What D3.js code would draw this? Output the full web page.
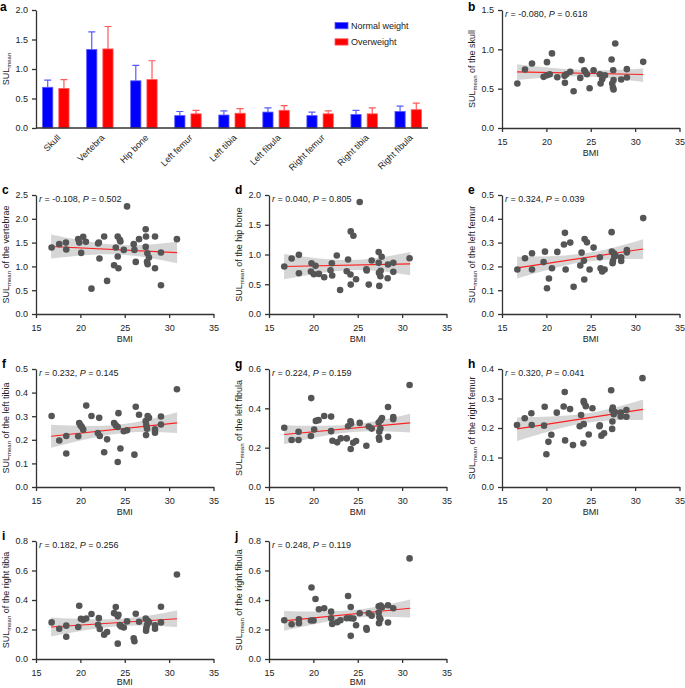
<!DOCTYPE html>
<html>
<head>
<meta charset="utf-8">
<script src="https://cdn.jsdelivr.net/npm/d3@7"></script>
<style>
body { margin: 0; background: #fff; }
svg { font-family: "Liberation Sans", Arial, sans-serif; }
.axis path, .axis line { stroke: #333; stroke-width: 1.3; }
.axis text { fill: #222; font-size: 9px; }
</style>
</head>
<body>
<svg id="fig" width="685" height="688"></svg>
<script>
// ---- panel a: mean SUL by bone ----
let bones = ["Skull", "Vertebra", "Hip bone", "Left femur", "Left tibia", "Left fibula", "Right femur", "Right tibia", "Right fibula"]
let normalMean = [0.69, 1.33, 0.80, 0.21, 0.22, 0.27, 0.21, 0.23, 0.28]
let normalSD   = [0.12, 0.30, 0.26, 0.07, 0.07, 0.07, 0.06, 0.07, 0.09]
let overMean   = [0.67, 1.34, 0.82, 0.24, 0.25, 0.30, 0.24, 0.24, 0.31]
let overSD     = [0.15, 0.38, 0.32, 0.06, 0.08, 0.08, 0.05, 0.10, 0.11]
let barTicks = [0, 0.5, 1.0, 1.5, 2.0]
let groups = ["Normal weight", "Overweight"]

// ---- scatter panels: [BMI, SULmean] ----
let skullPts = [[16.73,0.565],[17.59,0.744],[18.38,0.82],[19.69,0.65],[20.07,0.837],[20.07,0.67],[20.37,0.684],[20.63,0.948],[21.23,0.646],[22.05,0.663],[22.09,0.574],[22.24,0.684],[22.69,0.714],[23.07,0.467],[23.82,0.637],[23.97,0.863],[24.27,0.735],[24.38,0.714],[24.57,0.684],[24.87,0.506],[25.32,0.735],[26.03,0.684],[26.11,0.565],[26.29,0.62],[26.37,0.66],[26.6,0.67],[27.35,0.871],[27.42,0.565],[27.53,0.735],[27.57,0.61],[27.5,0.514],[27.57,0.49],[27.76,1.075],[28.43,0.616],[29.07,0.748],[29.07,0.642],[30.91,0.841]]
let vertebraPts = [[16.76,1.396],[17.62,1.467],[18.37,1.50],[18.41,1.354],[19.76,1.572],[19.87,1.50],[20.09,1.284],[20.32,1.621],[20.62,1.516],[21.25,0.533],[22.0,1.48],[22.08,1.50],[22.15,1.165],[22.68,1.628],[23.01,0.695],[23.8,1.025],[23.99,1.396],[24.21,1.628],[24.21,1.207],[24.29,0.961],[24.44,1.558],[24.51,1.523],[24.89,1.347],[25.26,2.26],[26.01,1.467],[26.09,1.347],[26.24,1.095],[26.61,1.572],[27.36,1.782],[27.4,1.628],[27.36,1.41],[27.55,1.277],[27.51,1.095],[27.58,1.046],[27.73,1.186],[28.41,1.628],[28.41,0.961],[29.08,1.291],[29.08,0.604],[30.88,1.572]]
let hipPts = [[16.72,0.798],[17.55,0.933],[18.37,0.994],[18.37,0.685],[19.79,0.854],[19.72,0.713],[20.06,0.669],[20.24,0.809],[20.62,0.674],[21.22,0.618],[21.93,0.736],[22.08,0.854],[22.12,0.646],[22.64,0.983],[23.01,0.404],[23.76,0.719],[23.91,0.916],[24.18,0.663],[24.21,0.494],[24.21,1.388],[24.51,1.315],[24.81,0.584],[25.22,1.882],[25.97,0.753],[26.01,0.73],[26.24,0.494],[26.57,0.899],[27.36,1.04],[27.36,0.86],[27.39,0.691],[27.43,0.472],[27.55,0.635],[27.58,0.725],[27.7,0.961],[28.37,0.601],[28.41,0.831],[29.01,0.86],[29.01,0.708],[30.84,0.938]]
let leftFemurPts = [[16.73,0.187],[17.59,0.234],[18.38,0.255],[18.38,0.187],[19.84,0.262],[19.69,0.218],[20.07,0.108],[20.29,0.149],[20.63,0.192],[21.23,0.261],[21.98,0.292],[22.09,0.341],[22.17,0.187],[22.69,0.30],[23.07,0.114],[23.82,0.204],[23.97,0.258],[24.23,0.224],[24.27,0.145],[24.31,0.315],[24.57,0.301],[24.87,0.187],[25.32,0.279],[26.03,0.238],[26.11,0.192],[26.29,0.179],[26.56,0.187],[27.35,0.344],[27.38,0.262],[27.46,0.213],[27.5,0.223],[27.61,0.255],[27.65,0.241],[27.8,0.245],[28.43,0.238],[28.43,0.223],[29.07,0.269],[29.07,0.259],[30.91,0.403]]
let leftTibiaPts = [[16.76,0.301],[17.62,0.197],[18.41,0.216],[18.41,0.142],[19.76,0.215],[19.87,0.271],[20.02,0.261],[20.17,0.254],[20.32,0.243],[20.66,0.345],[21.25,0.301],[21.97,0.229],[22.12,0.293],[22.19,0.216],[22.68,0.147],[23.01,0.202],[23.8,0.271],[23.99,0.261],[24.21,0.106],[24.21,0.254],[24.29,0.313],[24.51,0.163],[24.89,0.236],[25.26,0.24],[26.09,0.137],[26.24,0.340],[26.61,0.306],[27.36,0.279],[27.4,0.22],[27.43,0.261],[27.51,0.247],[27.58,0.301],[27.73,0.293],[28.41,0.244],[28.41,0.23],[29.08,0.299],[29.08,0.265],[30.88,0.414]]
let leftFibulaPts = [[16.72,0.301],[17.55,0.239],[18.33,0.281],[18.33,0.239],[19.72,0.259],[19.76,0.452],[20.09,0.292],[20.28,0.336],[20.58,0.34],[21.22,0.361],[22.0,0.358],[22.0,0.284],[22.15,0.235],[22.68,0.227],[23.09,0.247],[23.76,0.247],[23.91,0.309],[24.18,0.334],[24.25,0.323],[24.21,0.193],[24.48,0.225],[24.81,0.234],[25.22,0.326],[25.97,0.21],[26.24,0.308],[26.57,0.297],[27.36,0.328],[27.39,0.25],[27.43,0.24],[27.43,0.281],[27.55,0.297],[27.58,0.339],[27.73,0.351],[28.41,0.407],[28.41,0.255],[29.0,0.356],[29.0,0.345],[30.84,0.519]]
let rightFemurPts = [[16.69,0.21],[17.56,0.233],[18.31,0.25],[18.35,0.21],[19.74,0.208],[19.81,0.272],[20.0,0.111],[20.23,0.153],[20.56,0.177],[21.17,0.252],[21.95,0.273],[22.07,0.322],[22.11,0.158],[22.67,0.264],[23.0,0.142],[23.76,0.206],[23.91,0.244],[24.21,0.213],[24.17,0.148],[24.2,0.291],[24.25,0.286],[24.44,0.274],[24.77,0.178],[25.19,0.267],[25.98,0.206],[26.02,0.209],[26.2,0.174],[26.5,0.182],[27.3,0.328],[27.41,0.261],[27.41,0.197],[27.44,0.222],[27.48,0.269],[27.59,0.247],[27.71,0.254],[28.38,0.252],[28.38,0.239],[29.02,0.261],[29.02,0.238],[30.83,0.369]]
let rightTibiaPts = [[16.76,0.248],[17.62,0.205],[18.41,0.226],[18.41,0.151],[19.76,0.217],[19.87,0.361],[20.06,0.273],[20.32,0.266],[20.66,0.275],[21.25,0.305],[22.0,0.232],[22.08,0.277],[22.19,0.203],[22.68,0.165],[23.01,0.183],[23.8,0.311],[23.99,0.352],[24.21,0.104],[24.21,0.289],[24.29,0.30],[24.44,0.23],[24.6,0.221],[24.89,0.214],[25.26,0.255],[26.01,0.14],[26.09,0.12],[26.24,0.307],[26.61,0.253],[27.36,0.275],[27.4,0.192],[27.43,0.21],[27.51,0.23],[27.58,0.259],[27.73,0.25],[28.41,0.228],[28.41,0.205],[29.08,0.354],[29.08,0.248],[30.88,0.573]]
let rightFibulaPts = [[16.72,0.263],[17.55,0.236],[18.37,0.27],[18.37,0.243],[19.72,0.261],[19.79,0.485],[20.02,0.261],[20.24,0.407],[20.62,0.337],[21.22,0.344],[22.0,0.321],[22.0,0.276],[22.12,0.238],[22.68,0.249],[23.05,0.263],[23.76,0.276],[23.91,0.427],[24.18,0.276],[24.21,0.157],[24.21,0.353],[24.51,0.274],[24.81,0.229],[25.22,0.31],[25.97,0.209],[26.01,0.198],[26.24,0.31],[26.57,0.294],[27.36,0.357],[27.36,0.315],[27.4,0.243],[27.43,0.283],[27.55,0.27],[27.58,0.362],[27.73,0.351],[28.41,0.364],[28.41,0.247],[29.0,0.344],[30.84,0.682]]

let sites  = ["skull", "vertebrae", "hip bone", "left femur", "left tibia", "left fibula", "right femur", "right tibia", "right fibula"]
let letters = ["b", "c", "d", "e", "f", "g", "h", "i", "j"]
let rVals = ["-0.080", "-0.108", "0.040", "0.324", "0.232", "0.224", "0.320", "0.182", "0.248"]
let pVals = ["0.618", "0.502", "0.805", "0.039", "0.145", "0.159", "0.041", "0.256", "0.119"]
let yMaxes = [1.5, 2.5, 2.0, 0.5, 0.5, 0.6, 0.4, 0.8, 0.8]
let ySteps = [0.5, 0.5, 0.5, 0.1, 0.1, 0.2, 0.1, 0.2, 0.2]
let bmiTicks = [15, 20, 25, 30, 35]

// fitted line (at BMI 16.7 and 30.9) and 95% band (at BMI 16.7, 24.2, 30.9)
let fitX = [16.7, 30.9]
let bandX = [16.7, 24.2, 30.9]
let fitY = [[0.714,0.680],[1.418,1.291],[0.798,0.843],[0.194,0.273],[0.215,0.272],[0.267,0.326],[0.197,0.263],[0.217,0.273],[0.258,0.344]]
let bandLo = [[0.61,0.656,0.585],[1.165,1.25,1.067],[0.584,0.737,0.652],[0.149,0.218,0.231],[0.166,0.226,0.229],[0.217,0.278,0.277],[0.156,0.216,0.227],[0.153,0.222,0.217],[0.191,0.276,0.281]]
let bandHi = [[0.81,0.736,0.756],[1.67,1.45,1.516],[1.01,0.907,1.04],[0.241,0.254,0.314],[0.264,0.264,0.317],[0.314,0.318,0.373],[0.236,0.248,0.297],[0.282,0.272,0.329],[0.326,0.330,0.404]]

let allPts = [skullPts, vertebraPts, hipPts, leftFemurPts, leftTibiaPts, leftFibulaPts, rightFemurPts, rightTibiaPts, rightFibulaPts]

let svg = d3.select('#fig')
let fmt = d3.format('.1f')

// SUL_mean label with subscript
let sulLabel = (sel, rest) => {
    sel.append('tspan').text('SUL')
    sel.append('tspan').attr('dy', 2).style('font-size', '6px').text('mean')
    if (rest) sel.append('tspan').attr('dy', -2).text(' ' + rest)
}

// ================= panel a =================
let aLeft = 36, aRight = 428, aTop = 10, aBottom = 128
let x0 = d3.scaleBand().domain(bones).range([aLeft, aRight]).paddingInner(0.4).paddingOuter(0.15)
let x1 = d3.scaleBand().domain(groups).range([0, x0.bandwidth()]).paddingInner(0.37)
let yA = d3.scaleLinear().domain([0, 2]).range([aBottom, aTop])
let colors = { "Normal weight": "#0000ff", "Overweight": "#ff0000" }
let errColors = { "Normal weight": "#5a5aff", "Overweight": "#ff5a5a" }

let barRows = []
bones.forEach((b, i) => {
    barRows.push({ bone: b, g: groups[0], m: normalMean[i], sd: normalSD[i] })
    barRows.push({ bone: b, g: groups[1], m: overMean[i], sd: overSD[i] })
})

let ga = svg.append('g')
// error bars (upper only)
ga.selectAll('.err').data(barRows).enter().append('path')
    .attr('d', d => {
        let cx = x0(d.bone) + x1(d.g) + x1.bandwidth() / 2
        let yt = yA(d.m + d.sd)
        return 'M' + cx + ',' + yA(d.m) + 'V' + yt + 'M' + (cx - 3.5) + ',' + yt + 'H' + (cx + 3.5)
    })
    .attr('stroke', d => errColors[d.g])
    .attr('stroke-width', 1.2)
    .attr('fill', 'none')

ga.selectAll('.bar').data(barRows).enter().append('rect')
    .attr('x', d => x0(d.bone) + x1(d.g))
    .attr('y', d => yA(d.m))
    .attr('width', x1.bandwidth())
    .attr('height', d => yA(0) - yA(d.m))
    .attr('fill', d => colors[d.g])
    .attr('stroke', d => errColors[d.g])
    .attr('stroke-width', 0.8)

ga.append('g').attr('class', 'axis')
    .attr('transform', 'translate(' + aLeft + ',0)')
    .call(d3.axisLeft(yA).tickValues(barTicks).tickFormat(fmt).tickSize(4).tickPadding(4).tickSizeOuter(0))

ga.append('line').attr('class', 'axis')
    .attr('x1', aLeft).attr('x2', aRight).attr('y1', yA(0)).attr('y2', yA(0))
    .attr('stroke', '#333').attr('stroke-width', 1.3)

ga.selectAll('.blab').data(bones).enter().append('text')
    .attr('transform', d => 'translate(' + (x0(d) + x0.bandwidth() / 2 + 3) + ',' + (aBottom + 8) + ') rotate(-45)')
    .attr('text-anchor', 'end')
    .attr('dy', '0.35em')
    .style('font-size', '9px')
    .attr('fill', '#222')
    .text(d => d)

ga.append('text')
    .attr('transform', 'translate(' + (aLeft - 27) + ',' + ((aTop + aBottom) / 2) + ') rotate(-90)')
    .attr('text-anchor', 'middle')
    .style('font-size', '9px')
    .attr('fill', '#222')
    .call(sulLabel, null)

// legend
groups.forEach((g, i) => {
    ga.append('rect').attr('x', 335).attr('y', 22.5 + i * 16.3).attr('width', 13).attr('height', 6.3)
        .attr('fill', colors[g]).attr('stroke', errColors[g]).attr('stroke-width', 0.8)
    ga.append('text').attr('x', 351).attr('y', 25.7 + i * 16.3).attr('dy', '0.35em')
        .style('font-size', '9px').attr('fill', '#222').text(g)
})

ga.append('text').attr('x', 0).attr('y', 11).style('font-size', '12px').style('font-weight', 'bold').text('a')

// ================= scatter panels =================
let colX = [36, 269, 502]
let rowTop = [10, 195, 369, 541]
let rowBottom = [128, 314, 487, 659]
let plotW = 177.5
let cells = [[2, 0], [0, 1], [1, 1], [2, 1], [0, 2], [1, 2], [2, 2], [0, 3], [1, 3]]

sites.forEach((site, k) => {
    let [c, r] = cells[k]
    let left = colX[c], top = rowTop[r], bottom = rowBottom[r]
    let x = d3.scaleLinear().domain([15, 35]).range([left, left + plotW])
    let y = d3.scaleLinear().domain([0, yMaxes[k]]).range([bottom, top])
    let g = svg.append('g')

    let band = bandX.map((bx, j) => ({ x: bx, lo: bandLo[k][j], hi: bandHi[k][j] }))
    g.append('path').datum(band)
        .attr('d', d3.area().x(d => x(d.x)).y0(d => y(d.lo)).y1(d => y(d.hi)).curve(d3.curveNatural))
        .attr('fill', '#cfcfcf').attr('opacity', 0.85)

    g.append('line')
        .attr('x1', x(fitX[0])).attr('x2', x(fitX[1]))
        .attr('y1', y(fitY[k][0])).attr('y2', y(fitY[k][1]))
        .attr('stroke', '#ff2020').attr('stroke-width', 1.2)

    g.selectAll('circle').data(allPts[k]).enter().append('circle')
        .attr('cx', d => x(d[0])).attr('cy', d => y(d[1])).attr('r', 3.3)
        .attr('fill', '#555')

    let yt = d3.range(0, yMaxes[k] + 1e-9, ySteps[k])
    g.append('g').attr('class', 'axis').attr('transform', 'translate(' + left + ',0)')
        .call(d3.axisLeft(y).tickValues(yt).tickFormat(fmt).tickSize(4).tickPadding(4).tickSizeOuter(0))
    g.append('g').attr('class', 'axis').attr('transform', 'translate(0,' + bottom + ')')
        .call(d3.axisBottom(x).tickValues(bmiTicks).tickSize(4).tickPadding(7).tickSizeOuter(0))

    g.append('text').attr('x', left + plotW / 2).attr('y', Math.min(bottom + 28, 685))
        .attr('text-anchor', 'middle').style('font-size', '9px').attr('fill', '#222').text('BMI')

    g.append('text')
        .attr('transform', 'translate(' + (left - 27) + ',' + ((top + bottom) / 2) + ') rotate(-90)')
        .attr('text-anchor', 'middle').style('font-size', '9px').attr('fill', '#222')
        .call(sulLabel, 'of the ' + site)

    let ann = g.append('text').attr('x', left + 3).attr('y', top + 7).style('font-size', '9px').attr('fill', '#222')
    ann.append('tspan').style('font-style', 'italic').text('r')
    ann.append('tspan').text(' = ' + rVals[k] + ', ')
    ann.append('tspan').style('font-style', 'italic').text('P')
    ann.append('tspan').text(' = ' + pVals[k])

    g.append('text').attr('x', left - 34).attr('y', Math.max(top - 1, 11))
        .style('font-size', '12px').style('font-weight', 'bold').text(letters[k])
})
</script>
</body>
</html>
